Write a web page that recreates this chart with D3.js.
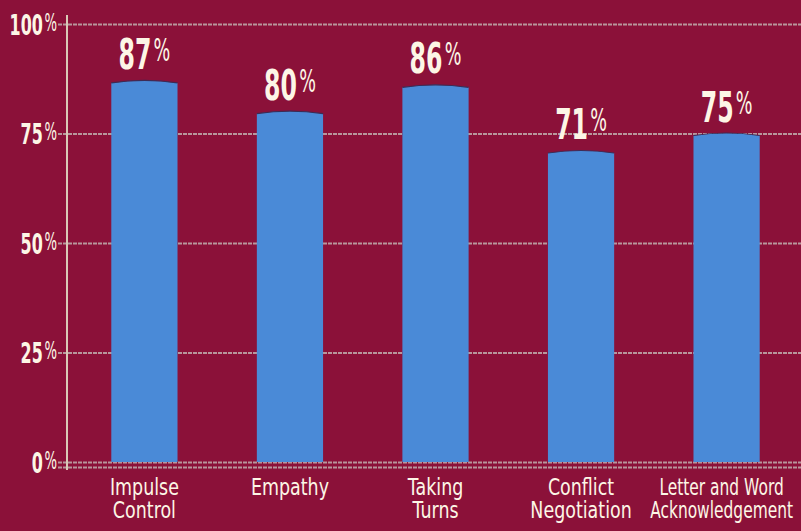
<!DOCTYPE html>
<html>
<head>
<meta charset="utf-8">
<script src="https://cdn.jsdelivr.net/npm/d3@7"></script>
<style>
  html, body { margin: 0; padding: 0; background: #8b1139; }
  svg { display: block; }
  text { font-family: "DejaVu Sans", "Liberation Sans", sans-serif; }
</style>
</head>
<body>
<script>
// Skill outcomes (percent of children)
const categories = [["Impulse", "Control"], ["Empathy"], ["Taking", "Turns"], ["Conflict", "Negotiation"], ["Letter and Word", "Acknowledgement"]];
const values = [87, 80, 86, 71, 75];
const yTicks = [0, 25, 50, 75, 100];

const W = 801, H = 531;
const bg = "#8b1139", barColor = "#4a8ad7", textColor = "#fdf6e6", gridColor = "#b8979c";

const svg = d3.select("body").append("svg").attr("width", W).attr("height", H);
svg.append("rect").attr("width", W).attr("height", H).attr("fill", bg);

const y = d3.scaleLinear().domain([0, 100]).range([462, 24]);
const x = d3.scaleBand().domain(d3.range(values.length)).range([72, 799]).paddingInner(0.545).paddingOuter(0.27);

// horizontal gridlines
svg.append("g").selectAll("line").data(yTicks).join("line")
  .attr("x1", 58).attr("x2", W)
  .attr("y1", d => y(d) + 0.5).attr("y2", d => y(d) + 0.5)
  .attr("stroke", gridColor).attr("stroke-width", 2).attr("stroke-dasharray", "4,1");
// second rule under the zero line
svg.append("line").attr("x1", 58).attr("x2", W).attr("y1", y(0) + 5.5).attr("y2", y(0) + 5.5)
  .attr("stroke", gridColor).attr("stroke-width", 2).attr("stroke-dasharray", "4,1");

// y axis with condensed percentage labels
const yAxis = svg.append("g").attr("transform", "translate(67,0)")
  .call(d3.axisLeft(y).tickValues(yTicks).tickSize(0).tickFormat(d => d));
yAxis.select(".domain").remove();
yAxis.append("line").attr("x1", 0).attr("x2", 0).attr("y1", 15).attr("y2", 470)
  .attr("stroke", "#d9c9b6").attr("stroke-width", 2);
yAxis.selectAll(".tick text")
  .attr("x", 0).attr("dy", null)
  .attr("transform", "translate(-10,10) scale(0.55,1)")
  .attr("fill", textColor).attr("font-size", 29).attr("font-weight", "bold")
  .each(function () {
    d3.select(this).append("tspan").text("%").attr("font-size", 24).attr("font-weight", "normal")
      .attr("dx", 3).attr("dy", -4);
  });

// bars with slightly domed tops
const barPath = (d, i, closed) => {
  const x0 = x(i), x1 = x(i) + x.bandwidth(), top = y(d), base = y(0);
  const mid = (x0 + x1) / 2;
  const arc = `M${x0},${top + 2}Q${mid},${top - 3} ${x1},${top + 2}`;
  return closed ? `M${x0},${base}L${x0},${top + 2}Q${mid},${top - 3} ${x1},${top + 2}L${x1},${base}Z` : arc;
};
svg.append("g").selectAll("path").data(values).join("path")
  .attr("d", (d, i) => barPath(d, i, true))
  .attr("fill", barColor);
svg.append("g").selectAll("path").data(values).join("path")
  .attr("d", (d, i) => barPath(d, i, false))
  .attr("fill", "none").attr("stroke", "#3d2b55").attr("stroke-width", 1.2);

// value labels above the bars
const labels = svg.append("g").selectAll("text").data(values).join("text")
  .attr("transform", (d, i) => `translate(${x(i) + x.bandwidth() / 2},${y(d) - 12}) scale(0.55,1)`)
  .attr("text-anchor", "middle").attr("fill", textColor);
labels.append("tspan").text(d => d).attr("font-size", 43).attr("font-weight", "bold");
labels.append("tspan").text("%").attr("font-size", 32).attr("dx", 4).attr("dy", -8);

// category labels, condensed; long lines squeezed to fit under their bar
const maxLabelWidth = 143;
svg.append("g").selectAll("text").data(categories).join("text")
  .attr("text-anchor", "middle").attr("fill", textColor).attr("font-size", 23)
  .each(function (d, i) {
    const t = d3.select(this);
    d.forEach((line, k) => {
      t.append("tspan").attr("x", 0).attr("dy", k === 0 ? 0 : 23).text(line);
    });
    const natural = this.getBBox().width;
    const sx = Math.min(0.76, maxLabelWidth / natural);
    t.attr("transform", `translate(${x(i) + x.bandwidth() / 2 - (sx < 0.76 ? 5 : 0)},495) scale(${sx},1)`);
  });
</script>
</body>
</html>
